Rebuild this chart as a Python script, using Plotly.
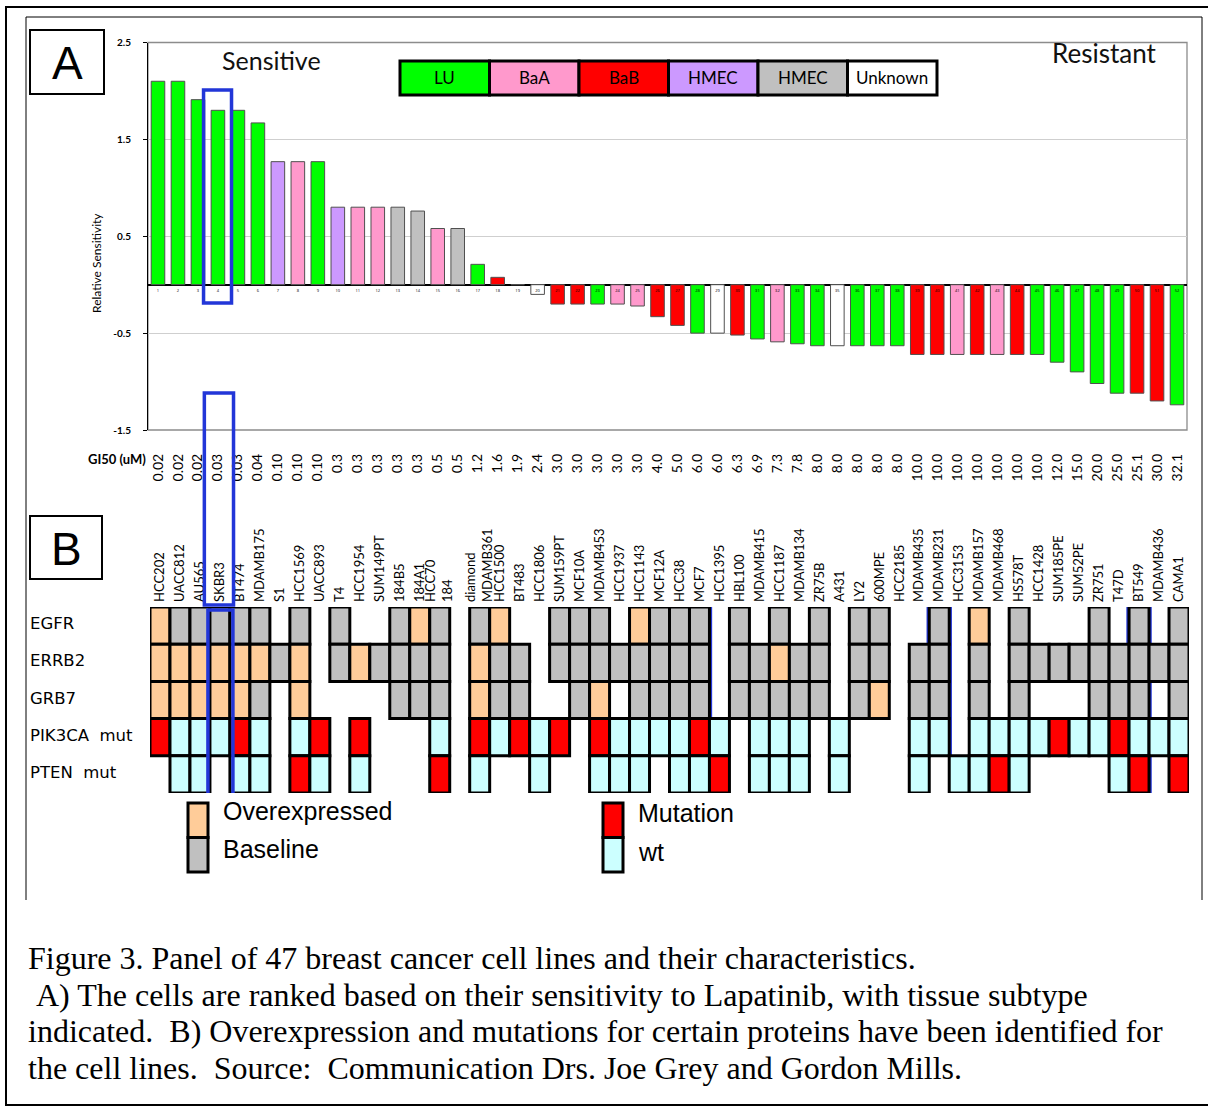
import plotly.graph_objects as go

W, H = 1208, 1107

# ---------------- data ----------------
gi50_labels = ["0.02", "0.02", "0.02", "0.03", "0.03", "0.04", "0.10", "0.10", "0.10",
               "0.3", "0.3", "0.3", "0.3", "0.3", "0.5", "0.5", "1.2", "1.6", "1.9", "2.4",
               "3.0", "3.0", "3.0", "3.0", "3.0", "4.0", "5.0", "6.0", "6.0", "6.3", "6.9",
               "7.3", "7.8", "8.0", "8.0", "8.0", "8.0", "8.0", "10.0", "10.0", "10.0",
               "10.0", "10.0", "10.0", "10.0", "12.0", "15.0", "20.0", "25.0", "25.1",
               "30.0", "32.1"]

cell_lines = ["HCC202", "UACC812", "AU565", "SKBR3", "BT474", "MDAMB175", "S1", "HCC1569",
              "UACC893", "T4", "HCC1954", "SUM149PT", "184B5", "184A1", "HCC70<br>184", "",
              "diamond<br>MDAMB361", "HCC1500", "BT483", "HCC1806", "SUM159PT", "MCF10A",
              "MDAMB453", "HCC1937", "HCC1143", "MCF12A", "HCC38", "MCF7", "HCC1395",
              "HBL100", "MDAMB415", "HCC1187", "MDAMB134", "ZR75B", "A431", "LY2", "600MPE",
              "HCC2185", "MDAMB435", "MDAMB231", "HCC3153", "MDAMB157", "MDAMB468",
              "HS578T", "HCC1428", "SUM185PE", "SUM52PE", "ZR751", "T47D", "BT549",
              "MDAMB436", "CAMA1"]

sensitivity = [2.10, 2.10, 1.91, 1.80, 1.80, 1.67, 1.27, 1.27, 1.27, 0.80, 0.80, 0.80,
               0.80, 0.76, 0.58, 0.58, 0.21, 0.076, 0.0, -0.10, -0.20, -0.20, -0.20, -0.20,
               -0.22, -0.33, -0.42, -0.50, -0.50, -0.52, -0.56, -0.59, -0.61, -0.63, -0.63,
               -0.63, -0.63, -0.63, -0.72, -0.72, -0.72, -0.72, -0.72, -0.72, -0.72, -0.80,
               -0.90, -1.02, -1.12, -1.12, -1.20, -1.24]

subtype = ["LU", "LU", "LU", "LU", "LU", "LU", "HMEC-1", "BaA", "LU", "HMEC-1", "BaA", "BaA",
           "HMEC-2", "HMEC-2", "BaA", "HMEC-2", "LU", "BaB", "LU", "Unknown", "BaB", "BaB",
           "LU", "BaA", "BaA", "BaB", "BaB", "LU", "Unknown", "BaB", "LU", "BaA", "LU", "LU",
           "Unknown", "LU", "LU", "LU", "BaB", "BaB", "BaA", "BaB", "BaA", "BaB", "LU", "LU",
           "LU", "LU", "LU", "BaB", "BaB", "LU"]

subtype_legend = ["LU", "BaA", "BaB", "HMEC-1", "HMEC-2", "Unknown"]
subtype_legend_text = ["LU", "BaA", "BaB", "HMEC", "HMEC", "Unknown"]
subtype_colors = {"LU": "#00FF00", "BaA": "#FF99CC", "BaB": "#FF0000",
                  "HMEC-1": "#CC99FF", "HMEC-2": "#C0C0C0", "Unknown": "#FFFFFF"}

# status rows: O = overexpressed, B = baseline, M = mutation, W = wild type, . = no data
row_names = ["EGFR", "ERRB2", "GRB7", "PIK3CA  mut", "PTEN  mut"]
row_egfr = "OBBBBB.B.B" + "..BOB.BO.." + "BBB.OBBB.B" + ".B.B.BB..B" + ".O.B...B.B" + ".B"
row_errb2 = "OOOOOOBO.B" + "OBBBB.OBB." + "BBBBBBBB.B" + "BOBB.BB.BB" + ".B.BBBBBBB" + "BB"
row_grb7 = "OOOOOB.O.." + "..BBB.OBB." + ".BO.BBBB.B" + "BBBB.BO.BB" + ".B.B...BBB" + ".B"
row_pik3ca = "MWWWMW.WM." + "M...W.MWMW" + "M.MWWWWMW." + "WWW.W...WW" + ".WWWWMWWMW" + "WW"
row_pten = ".WW.WW.MW." + "W...M.W..W" + "..WWW.WWM." + "WWW.W...W." + "WWMW....WM" + ".M"
status_rows = [row_egfr, row_errb2, row_grb7, row_pik3ca, row_pten]
status_colors = {"O": "#FFCC99", "B": "#C0C0C0", "M": "#FF0000", "W": "#CCFFFF"}

highlight_main = "SKBR3"
highlight_other = ["MCF7", "MDAMB231", "MDAMB468", "BT549"]

caption = ["Figure 3. Panel of 47 breast cancer cell lines and their characteristics.",
           "\u00a0A) The cells are ranked based on their sensitivity to Lapatinib, with tissue subtype",
           "indicated.  B) Overexpression and mutations for certain proteins have been identified for",
           "the cell lines.  Source:  Communication Drs. Joe Grey and Gordon Mills."]

# ---------------- helpers ----------------
def px(x):
    return x / W


def py(y):
    return 1 - y / H


BLUE = "#2236D8"
CHART_FONT = "Lato, Liberation Sans, sans-serif"
N = len(sensitivity)
idx = list(range(N))

fig = go.Figure()

# ---- panel A: bar chart ----
fig.add_trace(go.Bar(
    x=idx, y=sensitivity, width=0.68,
    marker=dict(color=[subtype_colors[s] for s in subtype],
                line=dict(color="#505050", width=1)),
    xaxis="x", yaxis="y", showlegend=False, hoverinfo="skip"))

fig.add_trace(go.Scatter(
    x=idx, y=[-0.06] * N, mode="text", text=[str(i + 1) for i in idx],
    textfont=dict(size=4, color="black"), xaxis="x", yaxis="y",
    showlegend=False, hoverinfo="skip"))

# ---- panel B: status grid ----
for r, row in enumerate(status_rows):
    xs = [i for i, c in enumerate(row) if c != "."]
    fig.add_trace(go.Bar(
        x=xs, y=[1] * len(xs), base=[r] * len(xs), width=1,
        marker=dict(color=[status_colors[row[i]] for i in xs],
                    line=dict(color="black", width=3)),
        xaxis="x2", yaxis="y2", showlegend=False, hoverinfo="skip"))

shapes = []
annotations = []


def note(text, x, y, size, family=CHART_FONT, xanchor="center", yanchor="middle",
         xref="paper", yref="paper", **kw):
    font = dict(family=family, size=size, color=kw.pop("color", "black"))
    if "weight" in kw:
        font["weight"] = kw.pop("weight")
    annotations.append(dict(text=text, x=x, y=y, xref=xref, yref=yref, xanchor=xanchor,
                            yanchor=yanchor, showarrow=False, font=font, **kw))


# outer frames
shapes.append(dict(type="rect", xref="paper", yref="paper", x0=px(6), x1=px(1212),
                   y0=py(1105), y1=py(7), line=dict(color="black", width=2)))
shapes.append(dict(type="path", xref="paper", yref="paper",
                   path=f"M {px(26)},{py(900)} L {px(26)},{py(17)} L {px(1202)},{py(17)} L {px(1202)},{py(900)}",
                   line=dict(color="black", width=1)))

# plot frame of panel A
shapes.append(dict(type="rect", xref="paper", yref="paper", x0=px(148), x1=px(1187),
                   y0=py(430), y1=py(42.5), line=dict(color="#8C8C8C", width=1.3), layer="below"))

# panel letters
for letter, (x0, y0, x1, y1) in {"A": (30, 30, 104, 94), "B": (30, 516, 102, 579)}.items():
    shapes.append(dict(type="rect", xref="paper", yref="paper", x0=px(x0), x1=px(x1),
                       y0=py(y1), y1=py(y0), line=dict(color="black", width=2)))
    note(letter, px((x0 + x1) / 2), py((y0 + y1) / 2 + 1), 46,
         family="Liberation Sans, Arial")

# subtype legend boxes
lx0, lx1, ly0, ly1 = 400, 937, 61, 95
bw = (lx1 - lx0) / len(subtype_legend)
for k, (key, lab) in enumerate(zip(subtype_legend, subtype_legend_text)):
    shapes.append(dict(type="rect", xref="paper", yref="paper", x0=px(lx0 + k * bw),
                       x1=px(lx0 + (k + 1) * bw), y0=py(ly1), y1=py(ly0),
                       fillcolor=subtype_colors[key], line=dict(color="black", width=3)))
    note(lab, px(lx0 + (k + 0.5) * bw), py((ly0 + ly1) / 2), 17)

note("Sensitive", px(271), py(60), 25, color="#111")
note("Resistant", px(1104), py(53), 26, color="#111")
note("Relative Sensitivity", px(96), py(263), 12, textangle=-90)
note("GI50 (uM)", px(148), py(459), 13, xanchor="right", weight="bold")

# row labels of grid
for r, name in enumerate(row_names):
    note(name, px(28), r + 0.45, 16.5, family="DejaVu Sans", xanchor="left", yref="y2")

# grid legend
for (bx, labels, cols) in [(188, ["Overexpressed", "Baseline"], ["O", "B"]),
                           (603, ["Mutation", "wt"], ["M", "W"])]:
    for j, (lab, c) in enumerate(zip(labels, cols)):
        y0 = 803 + j * 34.5
        shapes.append(dict(type="rect", xref="paper", yref="paper", x0=px(bx), x1=px(bx + 20),
                           y0=py(y0 + 34.5), y1=py(y0), fillcolor=status_colors[c],
                           line=dict(color="black", width=3)))
    ty = [811, 849] if bx < 400 else [813, 852]
    for j, lab in enumerate(labels):
        note(lab, px(bx + 33), py(ty[j]), 25, family="Liberation Sans, Arial", xanchor="left")

# highlight boxes
hi = cell_lines.index(highlight_main)
shapes.append(dict(type="rect", xref="x", yref="paper", x0=hi - 0.72, x1=hi + 0.68,
                   y0=py(303), y1=py(90), line=dict(color=BLUE, width=3.5)))
shapes.append(dict(type="rect", xref="x", yref="paper", x0=hi - 0.68, x1=hi + 0.78,
                   y0=py(605), y1=py(393), line=dict(color=BLUE, width=3.5)))
shapes.append(dict(type="rect", xref="x2", yref="y2", x0=hi - 0.6, x1=hi + 0.65,
                   y0=0.08, y1=5.24, line=dict(color=BLUE, width=3.5)))
for name in highlight_other:
    j = cell_lines.index(name)
    shapes.append(dict(type="rect", xref="x2", yref="y2", x0=j - 0.56, x1=j + 0.56,
                       y0=-0.06, y1=5.14, line=dict(color=BLUE, width=3), layer="below"))

# caption
for k, line in enumerate(caption):
    note(line, px(26), py(958 + k * 36.7), 32, family="Liberation Serif, Times New Roman",
         xanchor="left")

fig.update_layout(
    width=W, height=H, margin=dict(l=0, r=0, t=0, b=0, pad=0, autoexpand=False),
    autosize=False,
    paper_bgcolor="white", plot_bgcolor="rgba(0,0,0,0)", barmode="overlay",
    shapes=shapes, annotations=annotations,
    xaxis=dict(domain=[px(148), px(1187)], range=[-0.5, N - 0.5], anchor="y",
               tickmode="array", tickvals=idx, ticktext=gi50_labels, tickangle=-90,
               ticks="", ticklabelstandoff=20, showgrid=False, zeroline=False,
               showline=False, automargin=False,
               tickfont=dict(family=CHART_FONT, size=14, color="black")),
    yaxis=dict(domain=[py(430), py(42.5)], range=[-1.5, 2.5], anchor="x",
               tickmode="array", tickvals=[-1.5, -0.5, 0.5, 1.5, 2.5],
               ticktext=["-1.5", "-0.5", "0.5", "1.5", "2.5"],
               ticks="outside", ticklen=4, tickcolor="black", ticklabelstandoff=10,
               showline=True, linecolor="black", linewidth=1, automargin=False,
               showgrid=True, gridcolor="#CFCFCF", gridwidth=1,
               zeroline=True, zerolinecolor="black", zerolinewidth=1.5,
               tickfont=dict(family=CHART_FONT, size=10, color="black", weight="bold")),
    xaxis2=dict(domain=[px(150), px(1189)], range=[-0.5, N - 0.5], anchor="y2", side="top",
                tickmode="array", tickvals=idx, ticktext=cell_lines, tickangle=-90,
                ticks="", ticklabelstandoff=4, showgrid=False, zeroline=False, showline=False,
                automargin=False, tickfont=dict(family=CHART_FONT, size=13, color="black")),
    yaxis2=dict(domain=[py(793), py(607)], range=[5, 0], anchor="x2", showticklabels=False,
                showgrid=False, zeroline=False, showline=False, ticks="", automargin=False),
)

post = ("var gd=document.getElementById('{plot_id}');"
        "gd.style.position='fixed';gd.style.top='0px';gd.style.left='0px';"
        "document.body.style.margin='0';document.body.style.overflow='hidden';"
        "document.documentElement.style.overflow='hidden';")
fig.write_html("out.html", config={"displayModeBar": False}, post_script=post)
